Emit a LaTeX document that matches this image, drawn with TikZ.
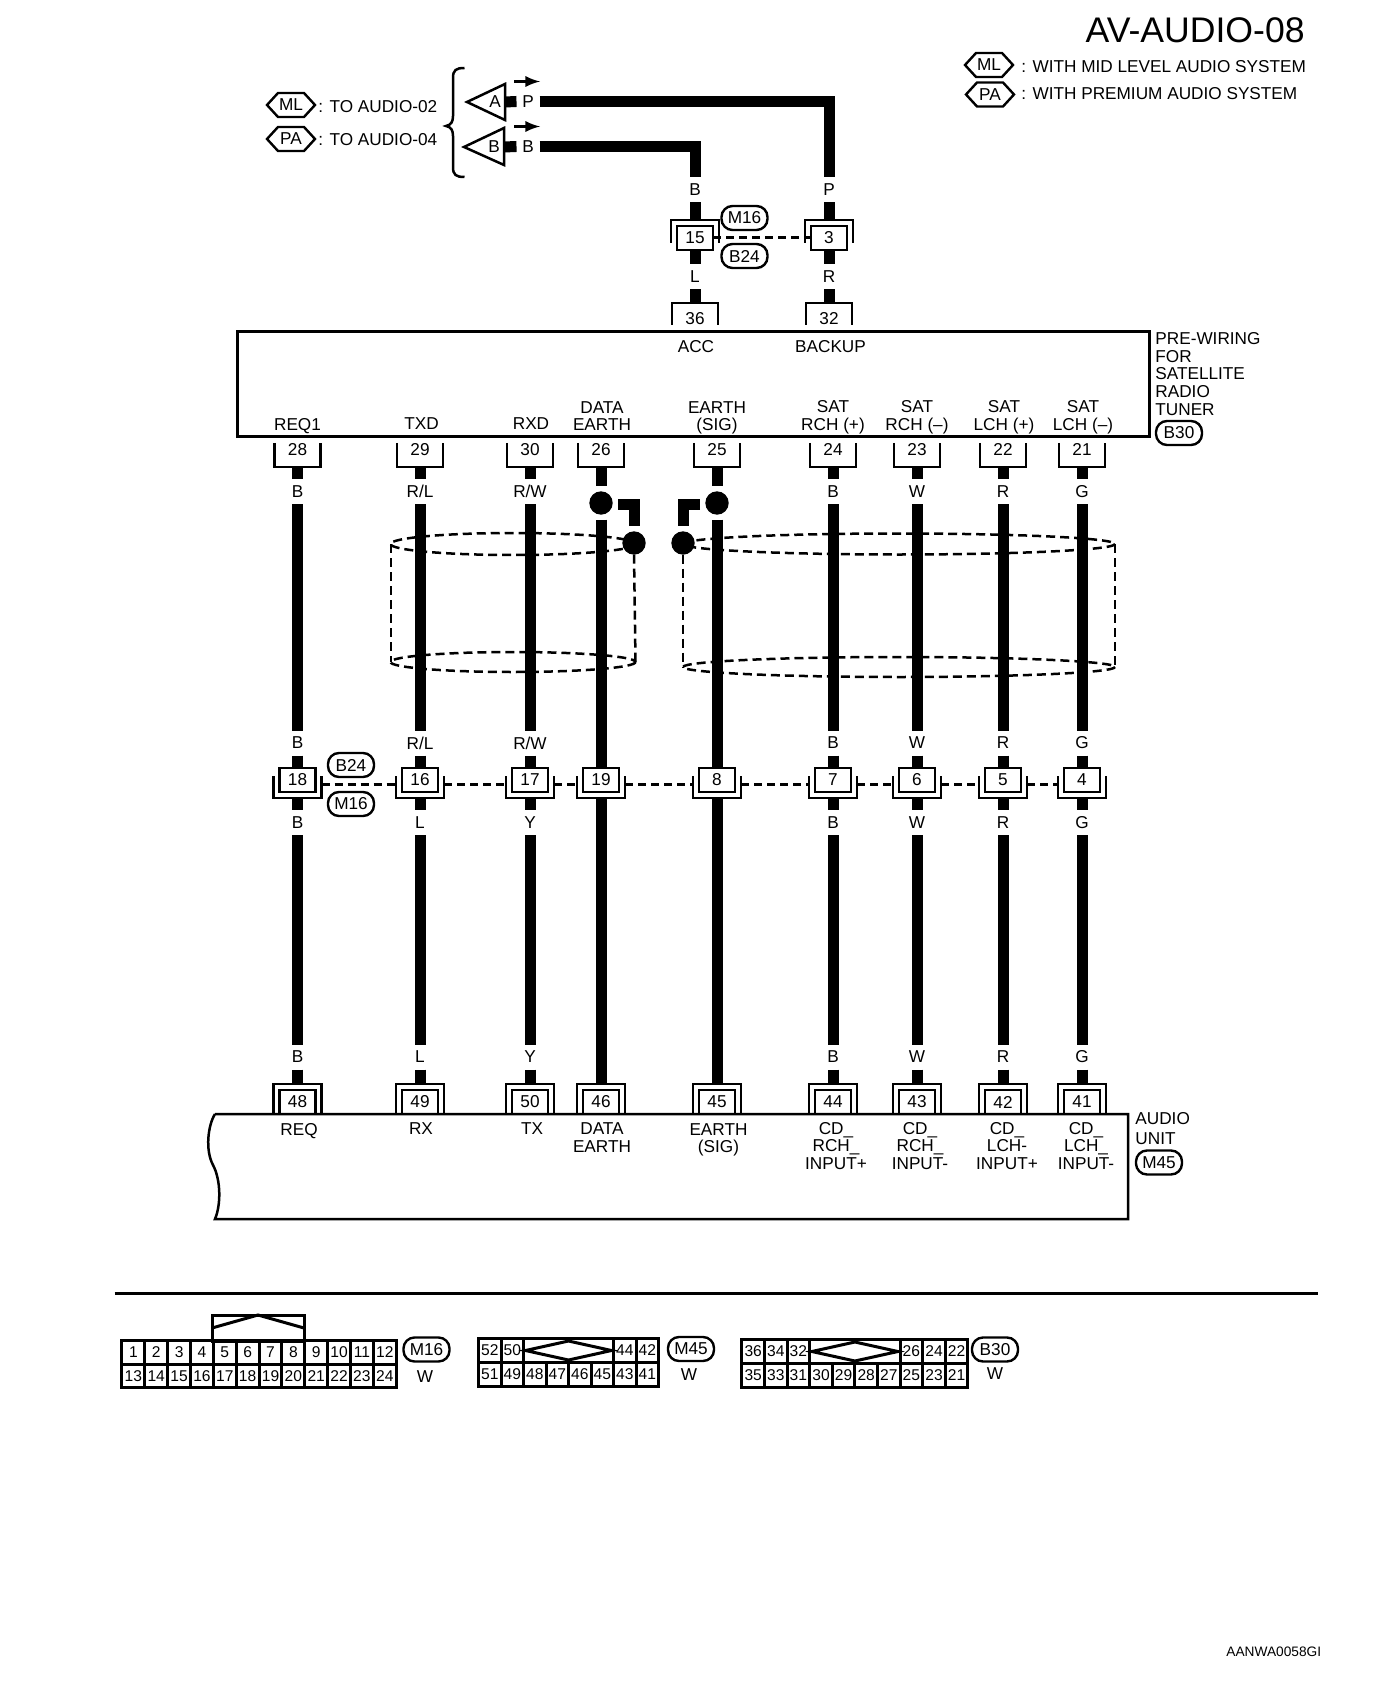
\documentclass[tikz,border=0pt]{standalone}
\usepackage{fontspec}
\setmainfont{Liberation Sans}
\usetikzlibrary{calc}
\usetikzlibrary{shapes.symbols}

\begin{document}
\begin{tikzpicture}[x=0.5pt,y=-0.5pt]
\tikzstyle{lab}=[font=\fontsize{8.6}{8.8}\selectfont,inner sep=0pt,align=center]
\tikzstyle{wirelbl}=[lab,minimum width=11.5pt,minimum height=12.5pt,outer sep=0pt]
\tikzstyle{wire}=[line width=5.5pt]
\tikzstyle{bracket}=[line width=1.25pt]
\tikzstyle{link}=[line width=1.5pt,dash pattern=on 4pt off 2.5pt]
\tikzstyle{shield}=[line width=1.25pt,dash pattern=on 4.5pt off 2.5pt]
\tikzstyle{pinbox}=[lab,text height=6pt,text depth=6pt,minimum width=23pt,outer sep=0pt]
\tikzstyle{pintop}=[lab,text height=11pt,text depth=0pt,minimum width=23pt,outer sep=0pt]
\tikzstyle{jointbox}=[lab,draw=black,line width=1.4pt,minimum width=18pt,minimum height=12pt,outer sep=0pt]
\tikzstyle{pill}=[lab,draw=black,line width=1.2pt,rounded corners=5.5pt,minimum width=23pt,minimum height=12pt]
\tikzstyle{hexa}=[lab,signal,signal to=east and west,signal pointer angle=95,draw=black,line width=1.2pt,minimum width=24pt,minimum height=12pt]
\tikzstyle{solder}=[circle,fill=black,minimum size=11.7pt,inner sep=0pt,outer sep=0pt]
\tikzstyle{cell}=[draw=black,line width=1.5pt,font=\fontsize{7.8}{8}\selectfont,minimum width=11.3pt,minimum height=11.75pt,inner sep=0pt,outer sep=0pt]
\useasboundingbox (0,0) rectangle (1392,1684);

\node[font=\fontsize{17.8}{18}\selectfont,anchor=east,inner sep=0pt](title) at (1305,30){AV-AUDIO-08};
\node[hexa](mlkey) at (989,65){ML};
\node[hexa](pakey) at (990,94.5){PA};
\node[lab,anchor=west](mlnote) at (1021,67){: WITH MID LEVEL AUDIO SYSTEM};
\node[lab,anchor=west](panote) at (1021,94){: WITH PREMIUM AUDIO SYSTEM};

\node[hexa](mlto) at (291,105){ML};
\node[hexa](pato) at (291,139){PA};
\node[lab,anchor=west](mltext) at (318,107){: TO AUDIO-02};
\node[lab,anchor=west](patext) at (318,140){: TO AUDIO-04};
\draw[bracket] (464.5,68) .. controls (456,68) and (453,70) .. (453,78) -- (453,116) .. controls (453,122) and (451,125) .. (446,126) .. controls (451,127) and (453,130) .. (453,136) -- (453,167) .. controls (453,175) and (456,177) .. (464.5,177);

\node[lab](trA) at (495,102){A};
\node[lab](trB) at (494,147){B};
\draw[bracket] ($(trA)+(-28,0)$)--($(trA)+(10,-18)$)--($(trA)+(10,18)$)--cycle;
\draw[bracket] ($(trB)+(-30,0)$)--($(trB)+(10,-19)$)--($(trB)+(10,18)$)--cycle;
\node[wirelbl](sigP) at (528,101.5){P};
\node[wirelbl](sigB) at (528,146.5){B};
\draw[wire] ($(trA)+(10,0)$)--(sigP.west);
\draw[wire] ($(trB)+(10,0)$)--(sigB.west);
\draw[line width=1.5pt,-latex] ($(sigP)+(-14,-20)$)--($(sigP)+(12,-20)$);
\draw[line width=1.5pt,-latex] ($(sigB)+(-14,-20)$)--($(sigB)+(12,-20)$);

\node[wirelbl](upB) at (695,190){B};
\node[wirelbl](upP) at (829,190){P};
\draw[wire] (sigP.east)-|(upP.north);
\draw[wire] (sigB.east)-|(upB.north);

\node[jointbox](j15) at (695,238){15};
\node[jointbox](j3) at (829,238){3};
\draw[bracket] ($(j15)+(-24,5)$)--($(j15)+(-24,-18)$)--($(j15)+(24,-18)$)--($(j15)+(24,5)$);
\draw[bracket] ($(j3)+(-24,5)$)--($(j3)+(-24,-18)$)--($(j3)+(24,-18)$)--($(j3)+(24,5)$);
\draw[link] (j15.east)--(j3.west);
\node[pill](m16a) at (744.5,218){M16};
\node[pill](b24a) at (744.5,256){B24};
\node[wirelbl](lowL) at (695,277){L};
\node[wirelbl](lowR) at (829,277){R};
\node[pintop](a36) at (695,314){36};
\node[pintop](a32) at (829,314){32};
\draw[bracket] (a36.south west)--(a36.north west)--(a36.north east)--(a36.south east);
\draw[bracket] (a32.south west)--(a32.north west)--(a32.north east)--(a32.south east);
\draw[wire] (upB.south)--($(j15.north)+(0,-6)$);
\draw[wire] (upP.south)--($(j3.north)+(0,-6)$);
\draw[wire] (j15.south)--(lowL.north);
\draw[wire] (j3.south)--(lowR.north);
\draw[wire] (lowL.south)--(a36.north);
\draw[wire] (lowR.south)--(a32.north);

\node[draw=black,line width=1.5pt,minimum width=456pt,minimum height=52.5pt,outer sep=0pt](prebox) at (693,384.5){};
\node[lab](acc) at (696,347){ACC};
\node[lab](backup) at (830.5,347){BACKUP};
\node[lab](req1) at (297.5,426){REQ1};
\node[lab](txd) at (421.5,424){TXD};
\node[lab](rxd) at (531,424){RXD};
\node[lab](dataA) at (602,416){DATA\\EARTH};
\node[lab](earthA) at (717,418){EARTH\\(SIG)};
\node[lab](satA) at (833,417){SAT\\RCH (+)};
\node[lab](satB) at (917,417){SAT\\RCH (--)};
\node[lab](satC) at (1004,417){SAT\\LCH (+)};
\node[lab](satD) at (1083,417){SAT\\LCH (--)};
\node[lab,anchor=west,align=left](pretext) at (1155,374){PRE-WIRING\\FOR\\SATELLITE\\RADIO\\TUNER};
\node[pill](b30a) at (1179,433){B30};

\draw[shield] (513,544) ellipse [x radius=122.5,y radius=11];
\draw[shield] (513,662) ellipse [x radius=122.5,y radius=10];
\draw[shield] (899,544) ellipse [x radius=216,y radius=10.5];
\draw[shield] (899,667) ellipse [x radius=216,y radius=10];
\node[solder](dotA) at (601,503){};
\node[solder](dotB) at (717,503){};
\node[solder](drainA) at (634,543){};
\node[solder](drainB) at (683,543){};
\draw[shield] (391,544)--(391,662);
\draw[shield] (drainA.south)--(635.5,662);
\draw[shield] (drainB.south)--(683,667);
\draw[shield] (1115,544)--(1115,667);
\draw[wire] ($(dotA)+(17,1)$)-|($(drainA.north)+(0,-5)$);
\draw[wire] ($(dotB)+(-17,1)$)-|($(drainB.north)+(0,-5)$);

\foreach \cx/\pinA/\pinJ/\pinU in {297.5/28/18/48,420/29/16/49,530/30/17/50,601/26/19/46,717/25/8/45,833/24/7/44,917/23/6/43,1003/22/5/42,1082/21/4/41}{
\node[pinbox](a\pinA) at (\cx,455){\pinA};
\draw[bracket] (a\pinA.north west)--(a\pinA.south west)--(a\pinA.south east)--(a\pinA.north east);
\node[jointbox](j\pinJ) at (\cx,780){\pinJ};
\draw[bracket] ($(j\pinJ)+(-24,-4)$)--($(j\pinJ)+(-24,18)$)--($(j\pinJ)+(24,18)$)--($(j\pinJ)+(24,-4)$);
\node[jointbox](u\pinU) at (\cx,1102){\pinU};
\draw[bracket] ($(u\pinU)+(-24,11)$)--($(u\pinU)+(-24,-18)$)--($(u\pinU)+(24,-18)$)--($(u\pinU)+(24,11)$);
}

\foreach \cx/\pinA/\pinJ/\pinU/\cupper/\clower in {297.5/28/18/48/B/B,420/29/16/49/{R/L}/L,530/30/17/50/{R/W}/Y,833/24/7/44/B/B,917/23/6/43/W/W,1003/22/5/42/R/R,1082/21/4/41/G/G}{
\node[wirelbl](ca\pinA) at (\cx,491.5){\cupper};
\node[wirelbl](cb\pinA) at (\cx,743){\cupper};
\node[wirelbl](cc\pinA) at (\cx,822.5){\clower};
\node[wirelbl](cd\pinA) at (\cx,1057){\clower};
\draw[wire] (a\pinA.south)--(ca\pinA.north);
\draw[wire] (ca\pinA.south)--(cb\pinA.north);
\draw[wire] (cb\pinA.south)--(j\pinJ.north);
\draw[wire] ($(j\pinJ.south)+(0,6)$)--(cc\pinA.north);
\draw[wire] (cc\pinA.south)--(cd\pinA.north);
\draw[wire] (cd\pinA.south)--($(u\pinU.north)+(0,-6)$);
}

\draw[wire] (a26.south)--($(dotA.north)+(0,-5)$);
\draw[wire] ($(dotA.south)+(0,5)$)--(j19.north);
\draw[wire] ($(j19.south)+(0,6)$)--($(u46.north)+(0,-6)$);
\draw[wire] (a25.south)--($(dotB.north)+(0,-5)$);
\draw[wire] ($(dotB.south)+(0,5)$)--(j8.north);
\draw[wire] ($(j8.south)+(0,6)$)--($(u45.north)+(0,-6)$);

\foreach \ja/\jb in {18/16,16/17,17/19,19/8,8/7,7/6,6/5,5/4}{
\draw[link] ([xshift=3pt,yshift=-2pt]j\ja.east)--([xshift=-3pt,yshift=-2pt]j\jb.west);
}
\node[pill](b24b) at (351,765){B24};
\node[pill](m16b) at (351,804){M16};

\draw[line width=1.25pt] (215,1114)--(1128,1114)--(1128,1219)--(215,1219) .. controls (221,1205) and (221,1180) .. (213,1165) .. controls (205,1150) and (208,1125) .. (215,1114);
\node[lab](req) at (299,1131){REQ};
\node[lab](rx) at (421,1129){RX};
\node[lab](tx) at (532,1129){TX};
\node[lab](dataB) at (602,1137.5){DATA\\EARTH};
\node[lab](earthB) at (718.5,1140){EARTH\\(SIG)};
\node[lab](cdA) at (836,1146){CD\_\\RCH\_\\INPUT+};
\node[lab](cdB) at (920,1146){CD\_\\RCH\_\\INPUT-};
\node[lab](cdC) at (1007,1146){CD\_\\LCH-\\INPUT+};
\node[lab](cdD) at (1086,1146){CD\_\\LCH\_\\INPUT-};
\node[lab,anchor=west,align=left](unit) at (1135,1128.5){AUDIO\\[1pt]UNIT};
\node[pill](m45a) at (1159,1162.5){M45};

\coordinate (ruleL) at (114.5,1293);
\coordinate (ruleR) at (1318,1293);
\draw[line width=1.5pt] (ruleL)--(ruleR);

\node[draw=black,line width=1.5pt,minimum width=46pt,minimum height=13pt,outer sep=0pt](m16tab) at (258,1328){};
\draw[line width=1.5pt] (m16tab.west)--(m16tab.north)--(m16tab.east);
\foreach \n [count=\i from 0] in {1,...,12}{
\node[cell,minimum width=11.43pt](mc\n) at (133.4+22.85*\i,1352.5){\n};
}
\foreach \n [count=\i from 0] in {13,...,24}{
\node[cell,minimum width=11.43pt](mc\n) at (133.4+22.85*\i,1376){\n};
}
\node[pill](m16c) at (426.5,1349.5){M16};
\node[lab](m16w) at (425,1377){W};

\foreach \n/\i in {52/0,50/1,44/6,42/7}{
\node[cell,minimum width=11.25pt](uc\n) at (489.8+22.5*\i,1350.5){\n};
}
\foreach \n [count=\i from 0] in {51,49,48,47,46,45,43,41}{
\node[cell,minimum width=11.25pt](uc\n) at (489.8+22.5*\i,1374.5){\n};
}
\node[cell,minimum width=45pt](m45key) at (568.5,1350.5){};
\draw[line width=1.5pt] ($(m45key)+(-43,0)$)--($(m45key)+(0,-9.5)$)--($(m45key)+(43,0)$)--($(m45key)+(0,9.5)$)--cycle;
\node[pill](m45c) at (691,1349){M45};
\node[lab](m45w) at (689,1375){W};

\foreach \n/\i in {36/0,34/1,32/2,26/7,24/8,22/9}{
\node[cell](bc\n) at (753.2+22.6*\i,1351.5){\n};
}
\foreach \n [count=\i from 0] in {35,33,31,30,29,28,27,25,23,21}{
\node[cell](bc\n) at (753.2+22.6*\i,1375.5){\n};
}
\node[cell,minimum width=45.2pt](b30key) at (854.9,1351.5){};
\draw[line width=1.5pt] ($(b30key)+(-43,0)$)--($(b30key)+(0,-9.5)$)--($(b30key)+(43,0)$)--($(b30key)+(0,9.5)$)--cycle;
\node[pill](b30c) at (995,1349.5){B30};
\node[lab](b30w) at (995,1374){W};

\node[font=\fontsize{6.85}{7}\selectfont,anchor=west,inner sep=0pt](code) at (1226,1652){AANWA0058GI};
\end{tikzpicture}
\end{document}
